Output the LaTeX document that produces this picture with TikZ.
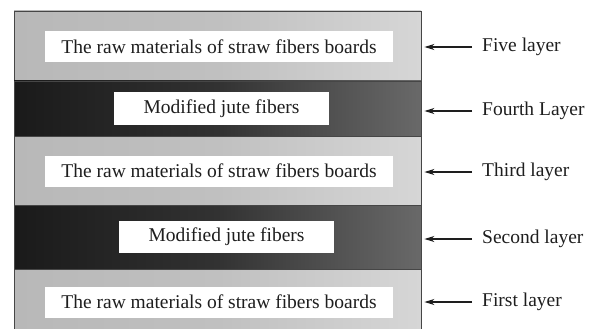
\documentclass[tikz,border=0pt]{standalone}
\usepackage{fontspec}
\setmainfont{Liberation Serif}
\usetikzlibrary{arrows.meta,positioning}
\definecolor{lightlayer}{RGB}{184, 184, 184}
\definecolor{lightlayerm}{RGB}{192, 192, 192}
\definecolor{lightlayerr}{RGB}{214, 214, 214}
\definecolor{darklayer}{RGB}{26, 26, 26}
\definecolor{darklayerm}{RGB}{50, 50, 50}
\definecolor{darklayerr}{RGB}{105, 105, 105}
\definecolor{edgegray}{RGB}{70, 70, 70}
\definecolor{textgray}{RGB}{30, 30, 30}
\tikzset{
  layer/.style={draw=edgegray, line width=0.8pt, inner sep=0pt, minimum width=407pt},
  lightlayer/.style={layer, left color=lightlayer, right color=lightlayerr, middle color=lightlayerm},
  darklayer/.style={layer, left color=darklayer, right color=darklayerr, middle color=darklayerm},
  tagbox/.style={fill=white, inner sep=0pt, minimum height=31pt, text=textgray,
    font=\fontsize{19.5}{23}\selectfont},
  laylabel/.style={anchor=west, inner sep=0pt, text=textgray,
    font=\fontsize{19.5}{23}\selectfont},
  pointer/.style={-{Stealth[length=10pt,width=6pt]}, line width=1.3pt, textgray}
}
\begin{document}
\begin{tikzpicture}[x=1pt, y=-1pt]
    \useasboundingbox (0,0) rectangle (597,329);
    \clip (0,0) rectangle (597,329);

    %% layers, top to bottom
    \node[lightlayer, minimum height=70pt] (L5) at (217.5,46) {};
    \node[darklayer, minimum height=55pt] (L4) at (217.5,108.5) {};
    \node[lightlayer, minimum height=69pt] (L3) at (217.5,170.5) {};
    \node[darklayer, minimum height=64pt] (L2) at (217.5,237) {};
    \node[lightlayer, minimum height=62pt] (L1) at (217.5,300) {};

    %% white tags
    \node[tagbox, minimum width=348pt] (t5) at (219,46.5) {The raw materials of straw fibers boards};
    \node[tagbox, minimum width=215pt, minimum height=33pt] (t4) at (221.5,108.5) {Modified jute fibers};
    \node[tagbox, minimum width=348pt] (t3) at (219,171) {The raw materials of straw fibers boards};
    \node[tagbox, minimum width=215pt, minimum height=32pt] (t2) at (226.5,237) {Modified jute fibers};
    \node[tagbox, minimum width=348pt] (t1) at (219,302) {The raw materials of straw fibers boards};

    %% layer names
    \node[laylabel] (n5) at (482,47) {Five layer};
    \node[laylabel] (n4) at (482,111) {Fourth Layer};
    \node[laylabel] (n3) at (482,172) {Third layer};
    \node[laylabel] (n2) at (482,239) {Second layer};
    \node[laylabel] (n1) at (482,302) {First layer};

    \foreach \i in {1,...,5}
      \draw[pointer] ([xshift=-10pt]n\i.west) -- ([xshift=3pt]n\i.west -| L\i.east);
  \end{tikzpicture}
\end{document}
